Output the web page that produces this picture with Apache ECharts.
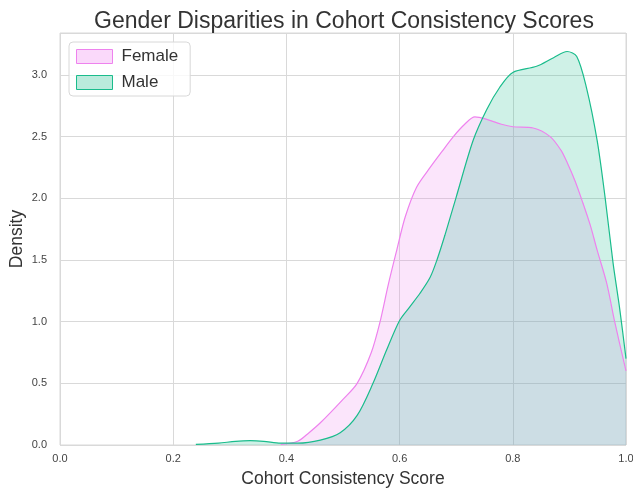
<!DOCTYPE html>
<html>
<head>
<meta charset="utf-8">
<script src="https://cdn.jsdelivr.net/npm/echarts@6/dist/echarts.min.js"></script>
<style>
  html, body { margin: 0; padding: 0; background: #fff; overflow: hidden; width: 100%; height: 100%; }
  #chart { width: 633px; height: 493px; }
</style>
</head>
<body>
<div id="chart"></div>
<script>
// KDE 曲线数据 [score, density]
var femaleDensity = [
  [0.39, 0.005], [0.42, 0.03], [0.44, 0.1], [0.46, 0.18], [0.5, 0.37], [0.525, 0.5],
  [0.55, 0.75], [0.565, 0.99], [0.58, 1.3], [0.595, 1.58], [0.61, 1.85], [0.63, 2.09],
  [0.654, 2.25], [0.675, 2.38], [0.695, 2.5], [0.715, 2.6], [0.733, 2.66], [0.754, 2.64],
  [0.78, 2.6], [0.8, 2.58], [0.836, 2.57], [0.866, 2.5], [0.885, 2.39], [0.896, 2.29],
  [0.91, 2.14], [0.924, 1.96], [0.937, 1.78], [0.949, 1.58], [0.966, 1.31], [0.98, 1.0],
  [1.0, 0.6]
]
var maleDensity = [
  [0.24, 0.005], [0.28, 0.015], [0.31, 0.03], [0.336, 0.035], [0.36, 0.03], [0.39, 0.015],
  [0.42, 0.015], [0.46, 0.04], [0.495, 0.1], [0.525, 0.24], [0.553, 0.5], [0.577, 0.77],
  [0.6, 1.01], [0.618, 1.12], [0.636, 1.23], [0.654, 1.36], [0.666, 1.5], [0.68, 1.7],
  [0.7, 2.01], [0.73, 2.47], [0.754, 2.72], [0.777, 2.9], [0.8, 3.02], [0.842, 3.07],
  [0.872, 3.14], [0.896, 3.19], [0.913, 3.15], [0.93, 2.9], [0.949, 2.47], [0.963, 2.01],
  [0.977, 1.48], [0.989, 1.1], [1.0, 0.7]
]
var seriesNames = ['Female', 'Male']
var xTicks = [0, 0.2, 0.4, 0.6, 0.8, 1.0]
var yTicks = [0, 0.5, 1.0, 1.5, 2.0, 2.5, 3.0]

var font = "'Liberation Sans', Arial, sans-serif"
var femaleColor = '#ee82ee'
var maleColor = '#1abc8c'

var option = {
  animation: false,
  textStyle: { fontFamily: font },
  title: {
    text: 'Gender Disparities in Cohort Consistency Scores',
    left: 339,
    textAlign: 'center',
    top: 5,
    textStyle: { color: '#333', fontSize: 23, fontWeight: 'normal', fontFamily: font }
  },
  legend: {
    orient: 'vertical',
    left: 69,
    top: 42,
    padding: [6, 12, 5, 7],
    itemGap: 9,
    itemWidth: 36,
    itemHeight: 14,
    icon: 'rect',
    borderColor: '#d8d8d8',
    borderWidth: 1,
    borderRadius: 4,
    backgroundColor: 'rgba(255,255,255,0.8)',
    textStyle: { color: '#333', fontSize: 17, fontFamily: font, padding: [0, 0, 0, 4] },
    data: [
      { name: seriesNames[0], itemStyle: { color: 'rgba(238,130,238,0.3)', borderColor: femaleColor, borderWidth: 1 } },
      { name: seriesNames[1], itemStyle: { color: 'rgba(26,188,140,0.3)', borderColor: maleColor, borderWidth: 1 } }
    ]
  },
  grid: {
    left: 60,
    right: 7,
    top: 33,
    bottom: 48,
    containLabel: false,
    outerBoundsMode: 'none',
    show: true,
    borderColor: '#d9d9d9',
    borderWidth: 1
  },
  xAxis: {
    type: 'value',
    min: xTicks[0],
    max: xTicks[xTicks.length - 1],
    interval: 0.2,
    name: 'Cohort Consistency Score',
    nameLocation: 'middle',
    nameGap: 25,
    nameTextStyle: { color: '#333', fontSize: 17.5, fontFamily: font },
    axisLine: { show: false },
    axisTick: { show: false },
    axisLabel: {
      color: '#444', fontSize: 11, margin: 8,
      formatter: function (v) { return v.toFixed(1) }
    },
    splitLine: { lineStyle: { color: '#d9d9d9', width: 1 } }
  },
  yAxis: {
    type: 'value',
    min: yTicks[0],
    max: 3.34,
    interval: 0.5,
    name: 'Density',
    nameLocation: 'middle',
    nameGap: 34,
    nameMoveOverlap: false,
    nameTextStyle: { color: '#333', fontSize: 17.5, fontFamily: font },
    axisLine: { show: false },
    axisTick: { show: false },
    axisLabel: {
      color: '#444', fontSize: 11, margin: 13, showMaxLabel: false,
      formatter: function (v) { return yTicks.indexOf(v) >= 0 ? v.toFixed(1) : '' }
    },
    splitLine: { lineStyle: { color: '#d9d9d9', width: 1 } }
  },
  series: [
    {
      name: seriesNames[0],
      type: 'line',
      smooth: 0.3,
      showSymbol: false,
      data: femaleDensity,
      lineStyle: { color: femaleColor, width: 1.2 },
      itemStyle: { color: femaleColor },
      areaStyle: { color: 'rgba(238,130,238,0.3)', origin: 'start' }
    },
    {
      name: seriesNames[1],
      type: 'line',
      smooth: 0.3,
      showSymbol: false,
      data: maleDensity,
      lineStyle: { color: maleColor, width: 1.2 },
      itemStyle: { color: maleColor },
      areaStyle: { color: 'rgba(26,188,140,0.3)', origin: 'start' }
    }
  ]
}

var myChart = echarts.init(document.getElementById('chart'))
myChart.setOption(option)
</script>
</body>
</html>
